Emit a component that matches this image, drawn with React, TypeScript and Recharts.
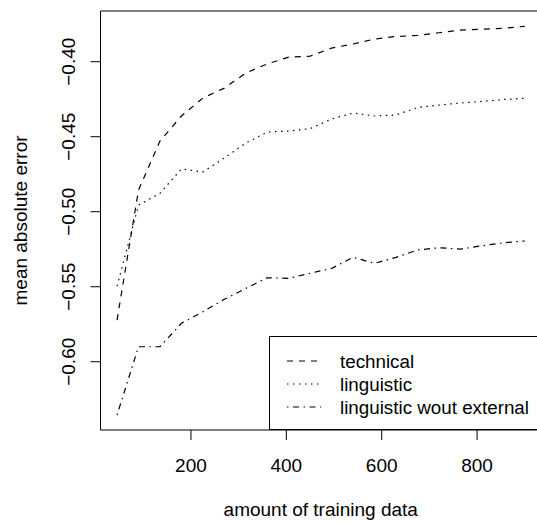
import React from "react";
import {
  LineChart,
  Line,
  XAxis,
  YAxis,
  Legend,
  ReferenceArea,
} from "recharts";

// training set sizes (x) and mean absolute error per feature set
const sizes = [45, 90, 135, 180, 225, 270, 315, 360, 405, 450, 495, 540, 585, 630, 675, 720, 765, 810, 855, 900];
const technical = [-0.5722, -0.4856, -0.4529, -0.4362, -0.4242, -0.4176, -0.4075, -0.4015, -0.3969, -0.3963, -0.3909, -0.3882, -0.3849, -0.3832, -0.3825, -0.3807, -0.3789, -0.3784, -0.3777, -0.3764];
const linguistic = [-0.5496, -0.4956, -0.4877, -0.4715, -0.4735, -0.4642, -0.4542, -0.4469, -0.4462, -0.4446, -0.4382, -0.4342, -0.4362, -0.4355, -0.4305, -0.4289, -0.4275, -0.4265, -0.4252, -0.4244];
const woutExternal = [-0.6355, -0.59, -0.59, -0.5744, -0.5667, -0.5584, -0.5511, -0.544, -0.5444, -0.541, -0.5378, -0.5304, -0.5344, -0.5304, -0.5255, -0.524, -0.5249, -0.5227, -0.5207, -0.5195];

const xTicks = [200, 400, 600, 800];
const yTicks = [-0.6, -0.55, -0.5, -0.45, -0.4];
const xDomain: [number, number] = [10.3, 934];
const yDomain: [number, number] = [-0.6455, -0.3662];

const series = [
  { key: "technical", name: "technical", dash: "6 6" },
  { key: "linguistic", name: "linguistic", dash: "1.5 4.5" },
  { key: "external", name: "linguistic wout external", dash: "1.5 4.5 6 4.5" },
];

const data = sizes.map((n, i) => ({
  n,
  technical: technical[i],
  linguistic: linguistic[i],
  external: woutExternal[i],
}));

const FONT = 19;
const LEGEND_FONT = 18.8;

const fmtY = (v: number) => (v < 0 ? "\u2212" : "") + Math.abs(v).toFixed(2);

const YTick = (props: any) => {
  const { x, y, payload } = props;
  const tx = x - 15.5;
  return (
    <text
      x={tx}
      y={y}
      transform={`rotate(-90, ${tx}, ${y})`}
      textAnchor="middle"
      fontSize={FONT}
      fill="#000"
    >
      {fmtY(payload.value)}
    </text>
  );
};

const XLabel = (props: any) => {
  const { x, y, width } = props.viewBox;
  return (
    <text x={x + width / 2} y={y + 86} textAnchor="middle" fontSize={FONT} fill="#000">
      amount of training data
    </text>
  );
};

const YLabel = (props: any) => {
  const { y, height } = props.viewBox;
  const cx = 27;
  const cy = y + height / 2;
  return (
    <text
      x={cx}
      y={cy}
      transform={`rotate(-90, ${cx}, ${cy})`}
      textAnchor="middle"
      fontSize={FONT}
      fill="#000"
    >
      mean absolute error
    </text>
  );
};

const LegendBox = () => (
  <div
    style={{
      width: 300,
      height: 94,
      border: "1px solid #000",
      boxSizing: "border-box",
      background: "#fff",
    }}
  >
    <svg width={300} height={92} style={{ display: "block" }}>
      {series.map((s, i) => (
        <g key={s.key}>
          <line
            x1={17}
            x2={51}
            y1={24 + i * 23}
            y2={24 + i * 23}
            stroke="#000"
            strokeWidth={1.2}
            strokeDasharray={s.dash}
          />
          <text x={70} y={31 + i * 23} fontSize={LEGEND_FONT} fill="#000">
            {s.name}
          </text>
        </g>
      ))}
    </svg>
  </div>
);

export default function App() {
  return (
    <div
      style={{
        position: "absolute",
        left: 0,
        top: 0,
        width: 537,
        height: 522,
        overflow: "hidden",
        fontFamily: "'Liberation Sans', Arial, sans-serif",
        background: "#fff",
      }}
    >
      <LineChart
        width={560}
        height={522}
        data={data}
        margin={{ top: 11, right: 19, bottom: 0, left: 0 }}
      >
        <XAxis
          dataKey="n"
          type="number"
          domain={xDomain}
          ticks={xTicks}
          allowDataOverflow
          height={92}
          axisLine={false}
          tickLine={{ stroke: "#000" }}
          tickSize={10}
          tickMargin={19}
          tick={{ fontSize: FONT, fill: "#000" }}
          label={<XLabel />}
        />
        <YAxis
          type="number"
          domain={yDomain}
          ticks={yTicks}
          allowDataOverflow
          width={100.5}
          axisLine={false}
          tickLine={{ stroke: "#000" }}
          tickSize={10}
          tickMargin={0}
          tick={<YTick />}
          label={<YLabel />}
        />
        <ReferenceArea
          x1={xDomain[0]}
          x2={xDomain[1]}
          y1={yDomain[0]}
          y2={yDomain[1]}
          fill="none"
          stroke="#000"
          strokeWidth={1}
          ifOverflow="visible"
        />
        {series.map((s) => (
          <Line
            key={s.key}
            dataKey={s.key}
            name={s.name}
            type="linear"
            stroke="#000"
            strokeWidth={1.2}
            strokeDasharray={s.dash}
            dot={false}
            isAnimationActive={false}
          />
        ))}
        <Legend
          layout="vertical"
          align="center"
          verticalAlign="middle"
          content={<LegendBox />}
          wrapperStyle={{ left: 269, top: 336, width: 300, height: 94 }}
        />
      </LineChart>
    </div>
  );
}
